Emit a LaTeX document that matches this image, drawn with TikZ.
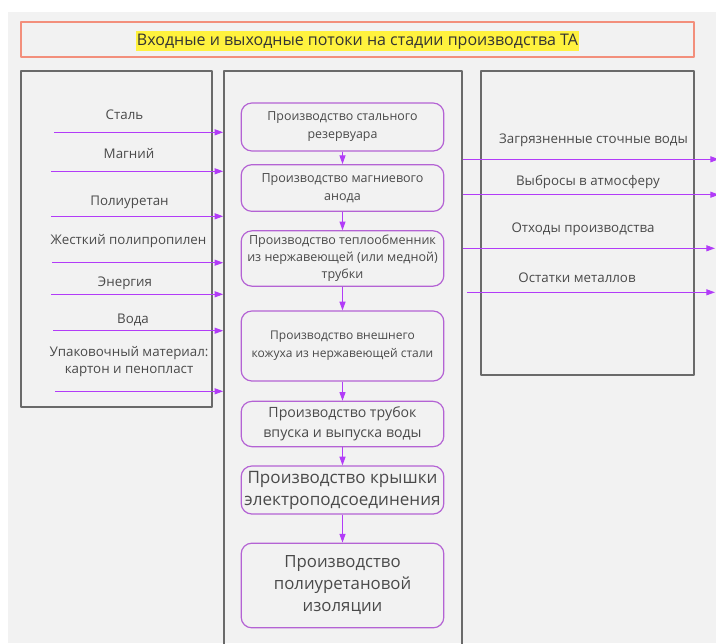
\documentclass[tikz,border=0pt]{standalone}
\usepackage{fontspec}
\setmainfont{Open Sans}
\usetikzlibrary{arrows.meta,fit}
\definecolor{bgc}{HTML}{F2F2F2}
\definecolor{flowc}{HTML}{B23CF8}
\definecolor{procc}{HTML}{B463D4}
\definecolor{framec}{HTML}{6A6A6A}
\definecolor{titlec}{HTML}{F38F7C}
\definecolor{hlc}{HTML}{FFF23E}
\definecolor{txtc}{HTML}{4A4A4A}
\begin{document}
\begin{tikzpicture}[x=0.75pt,y=-0.75pt,>={Triangle[length=6.5pt,width=4.5pt]},
	font=\fontsize{10}{12.75}\selectfont, text=txtc, line join=round,
	panel/.style={draw=framec,line width=1.1pt,inner sep=0pt},
	proc/.style={draw=procc,line width=0.9pt,rounded corners=8pt,fill=bgc,minimum width=152pt,align=center,inner sep=2pt},
	flow/.style={->,draw=flowc,fill=flowc,line width=0.75pt},
	lbl/.style={align=center,inner sep=1pt}]
	\clip (0,0) rectangle (716,643);
	\fill[bgc] (8,12) rectangle (716,643);
	% title
	\node[draw=titlec,line width=1.1pt,inner sep=0pt,fit={(21,22) (694,57)}] (tbox) {};
	\node[fill=hlc,inner xsep=1pt,inner ysep=1.2pt,text height=9.6pt,text depth=3pt,text=black!80,font=\fontsize{12}{13}\selectfont] (title) at (357.5,41) {Входные и выходные потоки на стадии производства ТА};
	% panels
	\node[panel,fit={(21,71) (212,407)}] (inp) {};
	\node[panel,fit={(224,71) (462,660)}] (mid) {};
	\node[panel,fit={(481,71) (694,375)}] (outp) {};
	% stages
	\node[proc,minimum height=36pt,font=\fontsize{9.3}{13.5}\selectfont] (p1) at (342.5,127) {Производство стального\\резервуара};
	\node[proc,minimum height=35pt,font=\fontsize{9.4}{13.5}\selectfont] (p2) at (342.5,188) {Производство магниевого\\анода};
	\node[proc,minimum height=41.5pt,font=\fontsize{9.4}{12.75}\selectfont] (p3) at (342.5,258.5) {Производство теплообменник\\из нержавеющей (или медной)\\трубки};
	\node[proc,minimum height=52.5pt,font=\fontsize{9}{13.5}\selectfont] (p4) at (342.5,346) {Производство внешнего\\кожуха из нержавеющей стали};
	\node[proc,minimum height=34pt,font=\fontsize{10.6}{15}\selectfont] (p5) at (342.5,424) {Производство трубок\\впуска и выпуска воды};
	\node[proc,minimum height=36pt,font=\fontsize{12.8}{16.5}\selectfont] (p6) at (342.5,490) {Производство крышки\\электроподсоединения};
	\node[proc,minimum height=63.5pt,font=\fontsize{12.6}{16.5}\selectfont] (p7) at (342.5,585.5) {Производство\\полиуретановой\\изоляции};
	\foreach \a/\b in {p1/p2,p2/p3,p3/p4,p4/p5,p5/p6,p6/p7}
		\draw[flow] (\a) -- (\b);
	% inputs
	\node[lbl] (i1) at (124.5,115) {Сталь};
	\node[lbl] (i2) at (129,154) {Магний};
	\node[lbl] (i3) at (129.5,202.5) {Полиуретан};
	\node[lbl] (i4) at (128.5,241.5) {Жесткий полипропилен};
	\node[lbl] (i5) at (125,283) {Энергия};
	\node[lbl] (i6) at (133,320) {Вода};
	\node[lbl] (i7) at (129,361.5) {Упаковочный материал:\\картон и пенопласт};
	\foreach \n/\x/\y in {1/54/132.3,2/51/171.3,3/51/216.3,4/52/262.7,5/51/294.3,6/53/330.7,7/55/391.3}{
		\coordinate (a\n) at (\x,\y);
		\draw[flow] (a\n) -- (a\n -| mid.west);
	}
	% outputs
	\node[lbl] (o1) at (593.5,140) {Загрязненные сточные воды};
	\node[lbl] (o2) at (588,181.5) {Выбросы в атмосферу};
	\node[lbl] (o3) at (583,229) {Отходы производства};
	\node[lbl] (o4) at (577,278) {Остатки металлов};
	\foreach \n/\x/\y in {1/719/159.3,2/719/194.7,3/715/248.3}{
		\coordinate (b\n) at (\x,\y);
		\draw[flow] (b\n -| mid.east) -- (b\n);
	}
	\coordinate (c4) at (467,292.3);
	\coordinate (b4) at (715,292.3);
	\draw[flow] (c4) -- (b4);
\end{tikzpicture}
\end{document}
